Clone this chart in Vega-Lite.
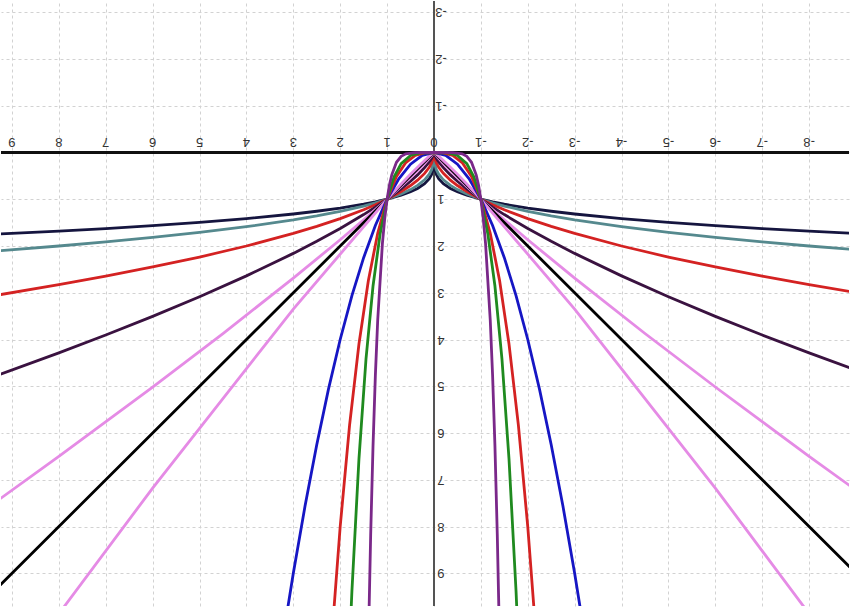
{
  "$schema": "https://vega.github.io/schema/vega-lite/v6.json",
  "width": 850,
  "height": 607,
  "autosize": {"type": "fit", "contains": "padding"},
  "padding": 0,
  "background": "white",
  "config": {"view": {"stroke": null}},
  "datasets": {
    "curves": [
      {"c":"a","x":-9.5,"y":1.756},{"c":"a","x":-8,"y":1.682},{"c":"a","x":-7,"y":1.627},{"c":"a","x":-6,"y":1.565},{"c":"a","x":-5,"y":1.495},{"c":"a","x":-4,"y":1.414},{"c":"a","x":-3,"y":1.316},{"c":"a","x":-2.5,"y":1.257},{"c":"a","x":-2,"y":1.189},{"c":"a","x":-1.5,"y":1.107},{"c":"a","x":-1.25,"y":1.057},{"c":"a","x":-1,"y":1},{"c":"a","x":-0.7,"y":0.915},{"c":"a","x":-0.5,"y":0.841},{"c":"a","x":-0.35,"y":0.769},{"c":"a","x":-0.2,"y":0.669},{"c":"a","x":-0.1,"y":0.562},{"c":"a","x":-0.05,"y":0.473},{"c":"a","x":-0.01,"y":0.316},{"c":"a","x":-0.001,"y":0.178},{"c":"a","x":0,"y":0},{"c":"a","x":0.001,"y":0.178},{"c":"a","x":0.01,"y":0.316},{"c":"a","x":0.05,"y":0.473},{"c":"a","x":0.1,"y":0.562},{"c":"a","x":0.2,"y":0.669},{"c":"a","x":0.35,"y":0.769},{"c":"a","x":0.5,"y":0.841},{"c":"a","x":0.7,"y":0.915},{"c":"a","x":1,"y":1},{"c":"a","x":1.25,"y":1.057},{"c":"a","x":1.5,"y":1.107},{"c":"a","x":2,"y":1.189},{"c":"a","x":2.5,"y":1.257},{"c":"a","x":3,"y":1.316},{"c":"a","x":4,"y":1.414},{"c":"a","x":5,"y":1.495},{"c":"a","x":6,"y":1.565},{"c":"a","x":7,"y":1.627},{"c":"a","x":8,"y":1.682},{"c":"a","x":9.5,"y":1.756},
      {"c":"b","x":-9.5,"y":2.118},{"c":"b","x":-8,"y":2},{"c":"b","x":-7,"y":1.913},{"c":"b","x":-6,"y":1.817},{"c":"b","x":-5,"y":1.71},{"c":"b","x":-4,"y":1.587},{"c":"b","x":-3,"y":1.442},{"c":"b","x":-2.5,"y":1.357},{"c":"b","x":-2,"y":1.26},{"c":"b","x":-1.5,"y":1.145},{"c":"b","x":-1.25,"y":1.077},{"c":"b","x":-1,"y":1},{"c":"b","x":-0.7,"y":0.888},{"c":"b","x":-0.5,"y":0.794},{"c":"b","x":-0.35,"y":0.705},{"c":"b","x":-0.2,"y":0.585},{"c":"b","x":-0.1,"y":0.464},{"c":"b","x":-0.05,"y":0.368},{"c":"b","x":-0.01,"y":0.215},{"c":"b","x":-0.001,"y":0.1},{"c":"b","x":0,"y":0},{"c":"b","x":0.001,"y":0.1},{"c":"b","x":0.01,"y":0.215},{"c":"b","x":0.05,"y":0.368},{"c":"b","x":0.1,"y":0.464},{"c":"b","x":0.2,"y":0.585},{"c":"b","x":0.35,"y":0.705},{"c":"b","x":0.5,"y":0.794},{"c":"b","x":0.7,"y":0.888},{"c":"b","x":1,"y":1},{"c":"b","x":1.25,"y":1.077},{"c":"b","x":1.5,"y":1.145},{"c":"b","x":2,"y":1.26},{"c":"b","x":2.5,"y":1.357},{"c":"b","x":3,"y":1.442},{"c":"b","x":4,"y":1.587},{"c":"b","x":5,"y":1.71},{"c":"b","x":6,"y":1.817},{"c":"b","x":7,"y":1.913},{"c":"b","x":8,"y":2},{"c":"b","x":9.5,"y":2.118},
      {"c":"c","x":-9.5,"y":3.082},{"c":"c","x":-8,"y":2.828},{"c":"c","x":-7,"y":2.646},{"c":"c","x":-6,"y":2.449},{"c":"c","x":-5,"y":2.236},{"c":"c","x":-4,"y":2},{"c":"c","x":-3,"y":1.732},{"c":"c","x":-2.5,"y":1.581},{"c":"c","x":-2,"y":1.414},{"c":"c","x":-1.5,"y":1.225},{"c":"c","x":-1.25,"y":1.118},{"c":"c","x":-1,"y":1},{"c":"c","x":-0.7,"y":0.837},{"c":"c","x":-0.5,"y":0.707},{"c":"c","x":-0.35,"y":0.592},{"c":"c","x":-0.2,"y":0.447},{"c":"c","x":-0.1,"y":0.316},{"c":"c","x":-0.05,"y":0.224},{"c":"c","x":-0.01,"y":0.1},{"c":"c","x":-0.001,"y":0.0316},{"c":"c","x":0,"y":0},{"c":"c","x":0.001,"y":0.0316},{"c":"c","x":0.01,"y":0.1},{"c":"c","x":0.05,"y":0.224},{"c":"c","x":0.1,"y":0.316},{"c":"c","x":0.2,"y":0.447},{"c":"c","x":0.35,"y":0.592},{"c":"c","x":0.5,"y":0.707},{"c":"c","x":0.7,"y":0.837},{"c":"c","x":1,"y":1},{"c":"c","x":1.25,"y":1.118},{"c":"c","x":1.5,"y":1.225},{"c":"c","x":2,"y":1.414},{"c":"c","x":2.5,"y":1.581},{"c":"c","x":3,"y":1.732},{"c":"c","x":4,"y":2},{"c":"c","x":5,"y":2.236},{"c":"c","x":6,"y":2.449},{"c":"c","x":7,"y":2.646},{"c":"c","x":8,"y":2.828},{"c":"c","x":9.5,"y":3.082},
      {"c":"d","x":-9.5,"y":4.834},{"c":"d","x":-8,"y":4.287},{"c":"d","x":-7,"y":3.905},{"c":"d","x":-6,"y":3.505},{"c":"d","x":-5,"y":3.085},{"c":"d","x":-4,"y":2.639},{"c":"d","x":-3,"y":2.158},{"c":"d","x":-2.5,"y":1.899},{"c":"d","x":-2,"y":1.625},{"c":"d","x":-1.5,"y":1.328},{"c":"d","x":-1.25,"y":1.169},{"c":"d","x":-1,"y":1},{"c":"d","x":-0.7,"y":0.779},{"c":"d","x":-0.5,"y":0.616},{"c":"d","x":-0.35,"y":0.479},{"c":"d","x":-0.2,"y":0.324},{"c":"d","x":-0.1,"y":0.2},{"c":"d","x":-0.05,"y":0.123},{"c":"d","x":-0.01,"y":0.04},{"c":"d","x":0,"y":0},{"c":"d","x":0.01,"y":0.04},{"c":"d","x":0.05,"y":0.123},{"c":"d","x":0.1,"y":0.2},{"c":"d","x":0.2,"y":0.324},{"c":"d","x":0.35,"y":0.479},{"c":"d","x":0.5,"y":0.616},{"c":"d","x":0.7,"y":0.779},{"c":"d","x":1,"y":1},{"c":"d","x":1.25,"y":1.169},{"c":"d","x":1.5,"y":1.328},{"c":"d","x":2,"y":1.625},{"c":"d","x":2.5,"y":1.899},{"c":"d","x":3,"y":2.158},{"c":"d","x":4,"y":2.639},{"c":"d","x":5,"y":3.085},{"c":"d","x":6,"y":3.505},{"c":"d","x":7,"y":3.905},{"c":"d","x":8,"y":4.287},{"c":"d","x":9.5,"y":4.834},
      {"c":"e","x":-9.5,"y":7.585},{"c":"e","x":-8,"y":6.498},{"c":"e","x":-6,"y":5.016},{"c":"e","x":-4.5,"y":3.872},{"c":"e","x":-3,"y":2.688},{"c":"e","x":-2,"y":1.866},{"c":"e","x":-1.5,"y":1.44},{"c":"e","x":-1,"y":1},{"c":"e","x":-0.7,"y":0.725},{"c":"e","x":-0.5,"y":0.536},{"c":"e","x":-0.35,"y":0.389},{"c":"e","x":-0.2,"y":0.235},{"c":"e","x":-0.1,"y":0.126},{"c":"e","x":-0.05,"y":0.0675},{"c":"e","x":0,"y":0},{"c":"e","x":0.05,"y":0.0675},{"c":"e","x":0.1,"y":0.126},{"c":"e","x":0.2,"y":0.235},{"c":"e","x":0.35,"y":0.389},{"c":"e","x":0.5,"y":0.536},{"c":"e","x":0.7,"y":0.725},{"c":"e","x":1,"y":1},{"c":"e","x":1.5,"y":1.44},{"c":"e","x":2,"y":1.866},{"c":"e","x":3,"y":2.688},{"c":"e","x":4.5,"y":3.872},{"c":"e","x":6,"y":5.016},{"c":"e","x":8,"y":6.498},{"c":"e","x":9.5,"y":7.585},
      {"c":"f","x":-9.5,"y":9.5},{"c":"f","x":0,"y":0},{"c":"f","x":9.5,"y":9.5},
      {"c":"g","x":-9,"y":11.21},{"c":"g","x":-6,"y":7.178},{"c":"g","x":-3,"y":3.348},{"c":"g","x":-1,"y":1},{"c":"g","x":-0.7,"y":0.675},{"c":"g","x":-0.5,"y":0.467},{"c":"g","x":-0.3,"y":0.266},{"c":"g","x":-0.1,"y":0.079},{"c":"g","x":0,"y":0},{"c":"g","x":0.1,"y":0.079},{"c":"g","x":0.3,"y":0.266},{"c":"g","x":0.5,"y":0.467},{"c":"g","x":0.7,"y":0.675},{"c":"g","x":1,"y":1},{"c":"g","x":3,"y":3.348},{"c":"g","x":6,"y":7.178},{"c":"g","x":9,"y":11.21},
      {"c":"h","x":-3.25,"y":10.5625},{"c":"h","x":-3,"y":9},{"c":"h","x":-2.75,"y":7.5625},{"c":"h","x":-2.5,"y":6.25},{"c":"h","x":-2.25,"y":5.0625},{"c":"h","x":-2,"y":4},{"c":"h","x":-1.75,"y":3.0625},{"c":"h","x":-1.5,"y":2.25},{"c":"h","x":-1.25,"y":1.5625},{"c":"h","x":-1,"y":1},{"c":"h","x":-0.75,"y":0.5625},{"c":"h","x":-0.5,"y":0.25},{"c":"h","x":-0.25,"y":0.0625},{"c":"h","x":0,"y":0},{"c":"h","x":0.25,"y":0.0625},{"c":"h","x":0.5,"y":0.25},{"c":"h","x":0.75,"y":0.5625},{"c":"h","x":1,"y":1},{"c":"h","x":1.25,"y":1.5625},{"c":"h","x":1.5,"y":2.25},{"c":"h","x":1.75,"y":3.0625},{"c":"h","x":2,"y":4},{"c":"h","x":2.25,"y":5.0625},{"c":"h","x":2.5,"y":6.25},{"c":"h","x":2.75,"y":7.5625},{"c":"h","x":3,"y":9},{"c":"h","x":3.25,"y":10.5625},
      {"c":"i","x":-2.2,"y":10.648},{"c":"i","x":-2,"y":8},{"c":"i","x":-1.8,"y":5.832},{"c":"i","x":-1.6,"y":4.096},{"c":"i","x":-1.4,"y":2.744},{"c":"i","x":-1.2,"y":1.728},{"c":"i","x":-1,"y":1},{"c":"i","x":-0.8,"y":0.512},{"c":"i","x":-0.6,"y":0.216},{"c":"i","x":-0.4,"y":0.064},{"c":"i","x":-0.2,"y":0.008},{"c":"i","x":0,"y":0},{"c":"i","x":0.2,"y":0.008},{"c":"i","x":0.4,"y":0.064},{"c":"i","x":0.6,"y":0.216},{"c":"i","x":0.8,"y":0.512},{"c":"i","x":1,"y":1},{"c":"i","x":1.2,"y":1.728},{"c":"i","x":1.4,"y":2.744},{"c":"i","x":1.6,"y":4.096},{"c":"i","x":1.8,"y":5.832},{"c":"i","x":2,"y":8},{"c":"i","x":2.2,"y":10.648},
      {"c":"j","x":-1.85,"y":11.71},{"c":"j","x":-1.75,"y":9.379},{"c":"j","x":-1.6,"y":6.554},{"c":"j","x":-1.45,"y":4.42},{"c":"j","x":-1.3,"y":2.856},{"c":"j","x":-1.15,"y":1.749},{"c":"j","x":-1,"y":1},{"c":"j","x":-0.85,"y":0.522},{"c":"j","x":-0.7,"y":0.2401},{"c":"j","x":-0.5,"y":0.0625},{"c":"j","x":-0.3,"y":0.0081},{"c":"j","x":0,"y":0},{"c":"j","x":0.3,"y":0.0081},{"c":"j","x":0.5,"y":0.0625},{"c":"j","x":0.7,"y":0.2401},{"c":"j","x":0.85,"y":0.522},{"c":"j","x":1,"y":1},{"c":"j","x":1.15,"y":1.749},{"c":"j","x":1.3,"y":2.856},{"c":"j","x":1.45,"y":4.42},{"c":"j","x":1.6,"y":6.554},{"c":"j","x":1.75,"y":9.379},{"c":"j","x":1.85,"y":11.71},
      {"c":"k","x":-1.4,"y":10.54},{"c":"k","x":-1.35,"y":8.17},{"c":"k","x":-1.3,"y":6.275},{"c":"k","x":-1.25,"y":4.768},{"c":"k","x":-1.2,"y":3.583},{"c":"k","x":-1.1,"y":1.949},{"c":"k","x":-1.05,"y":1.407},{"c":"k","x":-1,"y":1},{"c":"k","x":-0.95,"y":0.698},{"c":"k","x":-0.9,"y":0.4783},{"c":"k","x":-0.8,"y":0.2097},{"c":"k","x":-0.7,"y":0.0824},{"c":"k","x":-0.6,"y":0.028},{"c":"k","x":-0.4,"y":0.0016},{"c":"k","x":0,"y":0},{"c":"k","x":0.4,"y":0.0016},{"c":"k","x":0.6,"y":0.028},{"c":"k","x":0.7,"y":0.0824},{"c":"k","x":0.8,"y":0.2097},{"c":"k","x":0.9,"y":0.4783},{"c":"k","x":0.95,"y":0.698},{"c":"k","x":1,"y":1},{"c":"k","x":1.05,"y":1.407},{"c":"k","x":1.1,"y":1.949},{"c":"k","x":1.2,"y":3.583},{"c":"k","x":1.25,"y":4.768},{"c":"k","x":1.3,"y":6.275},{"c":"k","x":1.35,"y":8.17},{"c":"k","x":1.4,"y":10.54}
    ],
    "xl": [
      {"v":9,"t":"9"},{"v":8,"t":"8"},{"v":7,"t":"7"},{"v":6,"t":"6"},{"v":5,"t":"5"},{"v":4,"t":"4"},{"v":3,"t":"3"},{"v":2,"t":"2"},{"v":1,"t":"1"},{"v":0,"t":"0"},{"v":-1,"t":"-1"},{"v":-2,"t":"-2"},{"v":-3,"t":"-3"},{"v":-4,"t":"-4"},{"v":-5,"t":"-5"},{"v":-6,"t":"-6"},{"v":-7,"t":"-7"},{"v":-8,"t":"-8"}
    ],
    "yl": [
      {"v":-3,"t":"-3"},{"v":-2,"t":"-2"},{"v":-1,"t":"-1"},{"v":1,"t":"1"},{"v":2,"t":"2"},{"v":3,"t":"3"},{"v":4,"t":"4"},{"v":5,"t":"5"},{"v":6,"t":"6"},{"v":7,"t":"7"},{"v":8,"t":"8"},{"v":9,"t":"9"}
    ]
  },
  "layer": [
    {
      "data": {"name": "curves"},
      "mark": {"type": "rule", "color": "#555555", "strokeWidth": 1.5},
      "encoding": {
        "x": {"datum": 0, "type": "quantitative", "scale": {"domain": [-8.851, 9.234], "reverse": true, "nice": false, "zero": false},
              "axis": {"values": [-8,-7,-6,-5,-4,-3,-2,-1,0,1,2,3,4,5,6,7,8,9], "labels": false, "ticks": false, "domain": false, "title": null, "grid": true, "gridDash": [3,3], "gridColor": "#d2d2d2", "gridWidth": 1}},
        "y": {"datum": -3.24, "type": "quantitative", "scale": {"domain": [-3.24, 9.7], "reverse": true, "nice": false, "zero": false},
              "axis": {"values": [-3,-2,-1,0,1,2,3,4,5,6,7,8,9], "labels": false, "ticks": false, "domain": false, "title": null, "grid": true, "gridDash": [3,3], "gridColor": "#d2d2d2", "gridWidth": 1}},
        "y2": {"datum": 9.7}
      }
    },
    {
      "data": {"name": "curves"},
      "mark": {"type": "rule", "color": "#111111", "strokeWidth": 2},
      "encoding": {
        "y": {"datum": 0, "type": "quantitative", "scale": {"domain": [-3.24, 9.7], "reverse": true, "nice": false, "zero": false}},
        "x": {"datum": 9.234, "type": "quantitative", "scale": {"domain": [-8.851, 9.234], "reverse": true, "nice": false, "zero": false}},
        "x2": {"datum": -8.851}
      }
    },
    {
      "data": {"name": "curves"},
      "mark": {"type": "line", "clip": true, "strokeWidth": 2.8},
      "encoding": {
        "x": {"field": "x", "type": "quantitative", "scale": {"domain": [-8.851, 9.234], "reverse": true, "nice": false, "zero": false}},
        "y": {"field": "y", "type": "quantitative", "scale": {"domain": [-3.24, 9.7], "reverse": true, "nice": false, "zero": false}},
        "color": {"field": "c", "type": "nominal", "legend": null,
                  "scale": {"domain": ["a","b","c","d","e","f","g","h","i","j","k"],
                            "range": ["#15153f","#55898e","#d42222","#3a1240","#e58be5","#000000","#e58be5","#1616c4","#d42222","#1f8a1f","#7a2889"]}}
      }
    },
    {
      "data": {"name": "xl"},
      "mark": {"type": "text", "angle": 180, "align": "center", "baseline": "middle", "dy": 10, "fontSize": 13, "font": "Liberation Sans", "fill": "#333333"},
      "encoding": {
        "x": {"field": "v", "type": "quantitative", "scale": {"domain": [-8.851, 9.234], "reverse": true, "nice": false, "zero": false}},
        "y": {"datum": 0, "type": "quantitative", "scale": {"domain": [-3.24, 9.7], "reverse": true, "nice": false, "zero": false}},
        "text": {"field": "t"}
      }
    },
    {
      "data": {"name": "yl"},
      "mark": {"type": "text", "angle": 180, "align": "center", "baseline": "middle", "dx": -7, "fontSize": 13, "font": "Liberation Sans", "fill": "#333333"},
      "encoding": {
        "y": {"field": "v", "type": "quantitative", "scale": {"domain": [-3.24, 9.7], "reverse": true, "nice": false, "zero": false}},
        "x": {"datum": 0, "type": "quantitative", "scale": {"domain": [-8.851, 9.234], "reverse": true, "nice": false, "zero": false}},
        "text": {"field": "t"}
      }
    }
  ]
}
